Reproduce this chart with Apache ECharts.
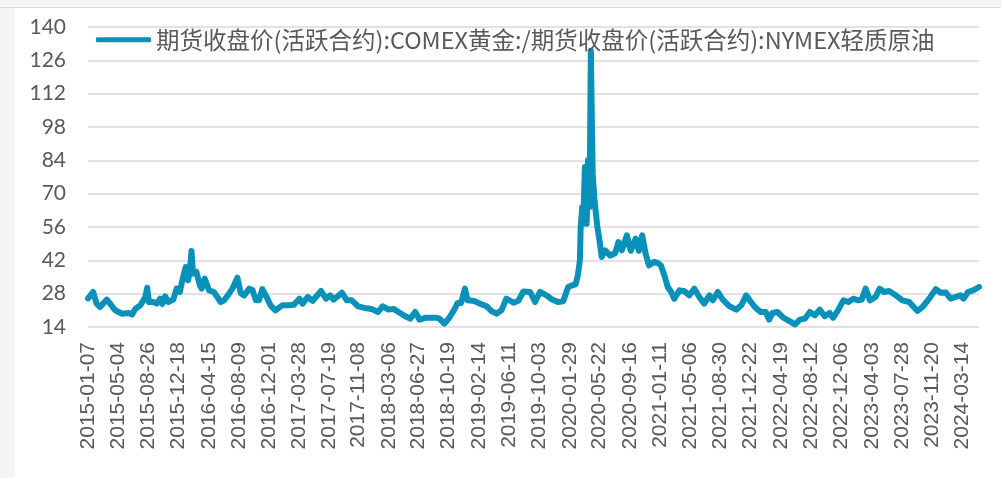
<!DOCTYPE html>
<html>
<head>
<meta charset="utf-8">
<script src="https://cdn.jsdelivr.net/npm/echarts@6/dist/echarts.min.js"></script>
<style>
html, body { margin: 0; padding: 0; width: 1001px; height: 478px; background: #f4f4f4; overflow: hidden; }
#topline { position: absolute; left: 0; top: 7px; width: 1001px; height: 1px; background: #d9d9d9; }
#echart1 { position: absolute; left: 15px; top: 8px; width: 986px; height: 470px; background: #fff; }
</style>
</head>
<body>
<div id="topline"></div>
<div id="echart1"></div>
<script>
// 横轴显示的日期
var tickDates = [
  '2015-01-07', '2015-05-04', '2015-08-26', '2015-12-18', '2016-04-15', '2016-08-09',
  '2016-12-01', '2017-03-28', '2017-07-19', '2017-11-08', '2018-03-06', '2018-06-27',
  '2018-10-19', '2019-02-14', '2019-06-11', '2019-10-03', '2020-01-29', '2020-05-22',
  '2020-09-16', '2021-01-11', '2021-05-06', '2021-08-30', '2021-12-22', '2022-04-19',
  '2022-08-12', '2022-12-06', '2023-04-03', '2023-07-28', '2023-11-20', '2024-03-14'
];
var yTicks = [14, 28, 42, 56, 70, 84, 98, 112, 126, 140];
var seriesName = '期货收盘价(活跃合约):COMEX黄金:/期货收盘价(活跃合约):NYMEX轻质原油';

// 读图得到的日期与比值
var dates = [
  '2015-01-07', '2015-01-27', '2015-02-09', '2015-02-22', '2015-03-20', '2015-04-02', '2015-04-21',
  '2015-05-18', '2015-06-12', '2015-06-25', '2015-07-08', '2015-07-27', '2015-08-15', '2015-08-22',
  '2015-08-29', '2015-09-15', '2015-09-28', '2015-10-11', '2015-10-19', '2015-10-30', '2015-11-11',
  '2015-11-30', '2015-12-13', '2015-12-25', '2016-01-07', '2016-01-17', '2016-01-26', '2016-02-02',
  '2016-02-08', '2016-02-14', '2016-02-27', '2016-03-11', '2016-03-18', '2016-03-30', '2016-04-15',
  '2016-05-04', '2016-05-17', '2016-05-30', '2016-06-12', '2016-07-01', '2016-07-14', '2016-08-02',
  '2016-08-15', '2016-08-28', '2016-09-16', '2016-09-29', '2016-10-12', '2016-10-24', '2016-11-06',
  '2016-11-25', '2016-12-07', '2016-12-26', '2017-01-21', '2017-02-15', '2017-03-06', '2017-03-28',
  '2017-04-09', '2017-04-29', '2017-05-18', '2017-06-19', '2017-07-08', '2017-07-24', '2017-08-06',
  '2017-09-07', '2017-09-26', '2017-10-15', '2017-11-08', '2017-12-03', '2017-12-29', '2018-01-23',
  '2018-02-11', '2018-03-05', '2018-03-24', '2018-04-12', '2018-05-08', '2018-05-27', '2018-06-15',
  '2018-07-02', '2018-07-27', '2018-08-15', '2018-09-03', '2018-09-16', '2018-10-05', '2018-10-24',
  '2018-11-12', '2018-11-25', '2018-12-08', '2018-12-23', '2019-01-02', '2019-01-28', '2019-02-18',
  '2019-03-16', '2019-04-04', '2019-04-23', '2019-05-12', '2019-05-31', '2019-06-15', '2019-06-27',
  '2019-07-16', '2019-08-04', '2019-08-30', '2019-09-18', '2019-10-07', '2019-11-01', '2019-11-20',
  '2019-12-15', '2020-01-04', '2020-01-23', '2020-02-08', '2020-02-21', '2020-02-29', '2020-03-08',
  '2020-03-11', '2020-03-17', '2020-03-21', '2020-03-27', '2020-04-03', '2020-04-08', '2020-04-14',
  '2020-04-19', '2020-04-26', '2020-05-03', '2020-05-14', '2020-05-22', '2020-05-31', '2020-06-13',
  '2020-07-02', '2020-07-21', '2020-08-03', '2020-08-16', '2020-09-04', '2020-09-19', '2020-10-08',
  '2020-10-20', '2020-11-02', '2020-11-15', '2020-11-28', '2020-12-17', '2020-12-30', '2021-01-12',
  '2021-01-26', '2021-02-08', '2021-02-21', '2021-03-05', '2021-03-25', '2021-04-13', '2021-05-02',
  '2021-05-21', '2021-06-09', '2021-06-28', '2021-07-18', '2021-07-31', '2021-08-19', '2021-09-07',
  '2021-10-03', '2021-10-29', '2021-11-17', '2021-12-06', '2021-12-24', '2022-01-12', '2022-01-31',
  '2022-02-19', '2022-03-04', '2022-03-17', '2022-04-05', '2022-04-27', '2022-05-16', '2022-06-11',
  '2022-06-30', '2022-07-19', '2022-08-07', '2022-08-26', '2022-09-14', '2022-10-03', '2022-10-22',
  '2022-11-04', '2022-11-23', '2022-12-14', '2023-01-02', '2023-01-21', '2023-02-09', '2023-02-22',
  '2023-03-09', '2023-03-26', '2023-04-16', '2023-05-02', '2023-05-19', '2023-06-07', '2023-07-03',
  '2023-07-28', '2023-08-23', '2023-09-24', '2023-10-13', '2023-11-08', '2023-12-03', '2023-12-22',
  '2024-01-10', '2024-01-29', '2024-02-17', '2024-03-07', '2024-03-19', '2024-04-05', '2024-04-24',
  '2024-05-17'
];
var ratios = [
  26.0, 28.7, 23.8, 22.4, 25.5, 23.8, 21.0,
  19.6, 19.9, 19.3, 21.7, 23.1, 26.6, 30.5,
  24.5, 24.5, 23.8, 25.9, 23.7, 26.9, 24.5,
  25.5, 30.1, 28.7, 35.0, 39.2, 33.6, 37.8,
  45.9, 36.4, 37.1, 31.5, 30.1, 34.3, 29.4,
  28.7, 26.6, 24.5, 25.2, 28.0, 30.1, 34.7,
  28.2, 27.2, 30.1, 29.5, 25.2, 25.2, 29.9,
  25.9, 23.1, 21.0, 23.1, 23.1, 23.3, 25.9,
  23.8, 26.6, 25.0, 29.1, 25.9, 27.3, 25.5,
  28.4, 25.2, 25.2, 22.7, 22.0, 21.6, 20.3,
  22.7, 21.3, 21.6, 20.3, 18.5, 17.5, 20.3,
  17.1, 17.9, 17.9, 17.9, 17.5, 15.4, 17.9,
  21.3, 24.1, 24.1, 30.1, 25.2, 24.9, 23.8,
  22.7, 20.7, 19.6, 21.0, 25.9, 25.0, 24.2,
  25.0, 28.9, 28.7, 24.5, 28.7, 27.3, 25.7,
  24.5, 24.8, 30.8, 31.5, 32.0, 35.7, 42.0,
  56.0, 64.4, 57.4, 81.2, 57.4, 84.0, 64.4,
  130.0, 78.4, 67.2, 56.0, 50.4, 43.4, 46.2,
  44.0, 45.0, 49.7, 46.2, 52.5, 46.0, 51.1,
  46.0, 52.5, 44.8, 39.9, 41.3, 41.0, 40.0,
  35.7, 30.8, 28.7, 25.9, 29.4, 29.0, 27.3,
  30.1, 26.6, 23.8, 27.3, 25.2, 28.7, 25.5,
  22.7, 21.3, 23.1, 27.3, 24.5, 21.9, 20.3,
  20.3, 17.1, 19.9, 20.3, 17.9, 16.8, 15.1,
  17.1, 17.5, 20.3, 18.9, 21.3, 18.5, 19.9,
  17.9, 21.0, 25.2, 24.5, 25.9, 25.2, 25.5,
  30.1, 25.2, 26.6, 30.1, 28.7, 29.1, 27.3,
  25.2, 24.5, 20.7, 22.4, 25.9, 29.9, 28.4,
  28.5, 25.9, 26.6, 27.3, 25.9, 28.7, 29.4,
  30.8
];

echarts_1();

function echarts_1() {
var myChart = echarts.init(document.getElementById('echart1'));
function toTime(d) {
    return echarts.time.parse(d).getTime();
}
var lineData = dates.map(function (d, i) { return [toTime(d), ratios[i]]; });
var option = {
    animation: false,
    color: ['#0a91b9'],
    grid: {
        left: 73,
        right: 22,
        top: 19,
        bottom: 151,
        containLabel: false
    },
    legend: {
        left: 76,
        top: 15,
        itemWidth: 55,
        itemHeight: 5,
        itemGap: 5,
        icon: 'roundRect',
        textStyle: {
            color: '#595959',
            fontSize: 23.5,
            fontFamily: 'Noto Sans CJK SC'
        },
        data: [seriesName]
    },
    xAxis: {
        type: 'value',
        min: toTime(dates[0]),
        max: toTime(dates[dates.length - 1]),
        axisLine: { show: false },
        axisTick: { show: false },
        splitLine: { show: false },
        axisLabel: {
            rotate: 90,
            margin: 15,
            color: '#595959',
            fontSize: 21,
            fontFamily: 'Liberation Sans',
            customValues: tickDates.map(toTime),
            formatter: function (v) {
                return echarts.time.format(v, '{yyyy}-{MM}-{dd}', false);
            }
        }
    },
    yAxis: {
        type: 'value',
        min: yTicks[0],
        max: yTicks[yTicks.length - 1],
        interval: 14,
        axisLine: { show: false },
        axisTick: { show: false },
        axisLabel: {
            margin: 22,
            color: '#595959',
            fontSize: 21,
            fontFamily: 'Lato'
        },
        splitLine: {
            lineStyle: { color: '#d9d9d9', width: 1.5 }
        }
    },
    series: [
        {
            name: seriesName,
            type: 'line',
            data: lineData,
            showSymbol: false,
            symbol: 'none',
            lineStyle: {
                width: 6,
                color: '#0a91b9',
                cap: 'round',
                join: 'round'
            }
        }
    ]
};
myChart.setOption(option);
}
</script>
</body>
</html>
